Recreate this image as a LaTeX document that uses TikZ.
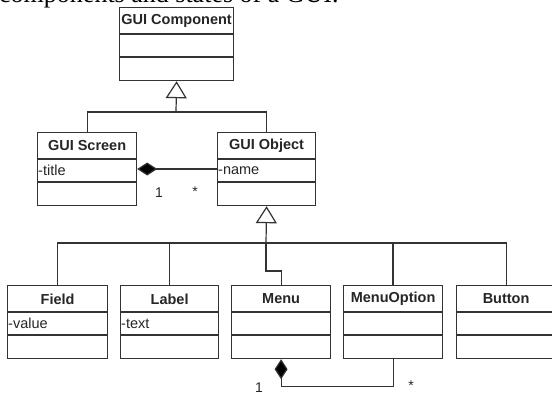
\documentclass[tikz,border=0pt]{standalone}
\usepackage{fontspec}
\setmainfont{Liberation Sans}
\newfontfamily\captionserif{Liberation Serif}
\usetikzlibrary{arrows.meta}
\definecolor{ink}{HTML}{333333}
\tikzset{
  classbox/.style={draw=ink, line width=1.2pt, rectangle, anchor=north west,
    minimum height=73pt, inner sep=0pt},
  rowline/.style={draw=ink, line width=1.2pt},
  titletext/.style={font=\fontsize{14.5}{16}\selectfont\bfseries, text=black!85, inner sep=0pt},
  attrtext/.style={font=\fontsize{14.5}{16}\selectfont, text=black!85, inner sep=0pt, anchor=west},
  conn/.style={draw=ink, line width=1.2pt},
  gen/.style={conn, -{Triangle[open, width=21pt, length=17pt, line width=1.2pt]}},
  compo/.style={conn, -{Diamond[width=13pt, length=20pt, fill=black]}},
  mult/.style={font=\fontsize{14}{16}\selectfont, text=black!85, inner sep=0pt, anchor=base},
}
% UML class with a name row, an attribute row and an empty operation row
\newcommand\umlclass[6]{% name, left, top, width, title, attribute
  \node[classbox, minimum width=#4pt] (#1) at (#2,#3) {};
  \draw[rowline] ([yshift=-27pt]#1.north west) -- ([yshift=-27pt]#1.north east);
  \draw[rowline] ([yshift=-50pt]#1.north west) -- ([yshift=-50pt]#1.north east);
  \node[titletext] (#1-title) at ([yshift=-14pt]#1.north) {#5};
  \node[attrtext] (#1-attr) at ([shift={(1pt,-38.5pt)}]#1.north west) {#6};
}
\begin{document}
\begin{tikzpicture}[x=1pt,y=-1pt]
\useasboundingbox (0,0) rectangle (552,394);
\clip (0,0) rectangle (552,394);
\fill[white] (0,0) rectangle (552,394);

% running text above the figure
\node[font=\captionserif\fontsize{26}{30}\selectfont, anchor=base west, inner sep=0pt]
  (caption) at (-1,2.5) {components and states of a GUI.};

% classes
\umlclass{comp}{119}{7}{114}{GUI Component}{}
\umlclass{screen}{37}{132}{99}{GUI Screen}{-title}
\umlclass{object}{217}{132}{98}{GUI Object}{-name}
\umlclass{field}{7}{285}{100}{Field}{-value}
\umlclass{label}{120}{285}{98}{Label}{-text}
\umlclass{menu}{231}{285}{99}{Menu}{}
\umlclass{menuopt}{343}{285}{99}{MenuOption}{}
\umlclass{button}{456}{285}{99}{Button}{}

% generalization: screen and object from component
\coordinate (j1) at (176,112);
\draw[gen] (j1) -- (comp.south);
\draw[conn] (screen.north) |- (j1) -| (object.north);

% generalization: widgets from object
\coordinate (j2) at (266,243);
\draw[gen] (j2) -- (object.south);
\draw[conn] (field.north) |- (j2);
\draw[conn] (label.north) |- (j2);
\draw[conn] (j2) -| (button.north);
\draw[conn, line width=1.5pt] (j2) -| (menuopt.north);
\draw[conn] (j2) -- ++(0,28) -| (menu.north);

% compositions
\draw[compo] ([yshift=-37pt]object.north west) -- ([yshift=-37pt]screen.north east);
\draw[compo] (menuopt.south) -- ++(0,27) -| (menu.south);

% multiplicities
\node[mult] (m1) at (159,197) {1};
\node[mult] (m2) at (195,196) {*};
\node[mult] (m3) at (259,392) {1};
\node[mult] (m4) at (411,390) {*};
\end{tikzpicture}
\end{document}
